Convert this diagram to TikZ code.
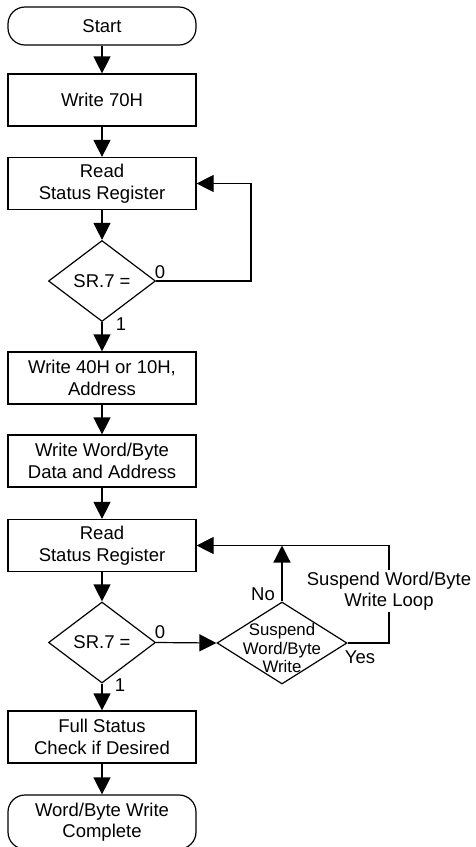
\documentclass[tikz,border=0pt]{standalone}
\usepackage{fontspec}
\setmainfont{Liberation Sans}
\usetikzlibrary{calc}
\usetikzlibrary{positioning}
\usetikzlibrary{shapes.geometric}
\usetikzlibrary{arrows.meta}

\begin{document}
\begin{tikzpicture}[x=1pt, y=-1pt,
		every node/.style={font=\fontsize{18.5}{21.5}\selectfont},
		box/.style={draw, line width=1.2pt, minimum width=188pt, minimum height=52pt, align=center, inner sep=0pt},
		term/.style={box, rounded corners=17pt},
		decide/.style={draw, line width=1.2pt, diamond, minimum width=107pt, minimum height=81pt, inner sep=0pt, aspect=1.32},
		arr/.style={line width=1.2pt, -{Triangle[length=17pt, width=17pt]}},
		wire/.style={line width=1.2pt}]
		\clip (0, 0) rectangle (476, 847);
		
		% main column
		\node[term, minimum height=38pt] (start) at (102, 26) {Start};
		\node[box] (w70) at (102, 100) {Write 70H};
		\node[box] (rsra) at (102, 183.5) {Read\\Status Register};
		\node[decide] (sra) at (102, 281) {SR.7 =};
		\node[box] (w40) at (102, 378) {Write 40H or 10H,\\Address};
		\node[box] (wwb) at (102, 461) {Write Word/Byte\\Data and Address};
		\node[box] (rsrb) at (102, 545.5) {Read\\Status Register};
		\node[decide] (srb) at (102, 642.5) {SR.7 =};
		\node[box] (full) at (102, 737) {Full Status\\Check if Desired};
		\node[term, minimum height=54pt] (done) at (102, 822) {Word/Byte Write\\Complete};
		
		% suspend branch
		\node[decide, minimum width=130pt, minimum height=82pt, aspect=1.585] (susp) at (282, 643) {};
		\node[font=\fontsize{16.8}{18.3}\selectfont, align=center, inner sep=0pt] (susptxt) at (282, 648) {Suspend\\Word/Byte\\Write};
		
		\coordinate (loopa) at (251, 183.5);
		\coordinate (loopb) at (389, 545.5);
		
		\draw[arr] (start) -- (w70);
		\draw[arr] (w70) -- (rsra);
		\draw[arr] (rsra) -- (sra);
		\draw[arr] (sra) -- (w40);
		\draw[arr] (w40) -- (wwb);
		\draw[arr] (wwb) -- (rsrb);
		\draw[arr] (rsrb) -- (srb);
		\draw[arr] (srb) -- (full);
		\draw[arr] (full) -- (done);
		\draw[arr] (sra.east) -| (loopa) -- (rsra.east);
		\draw[arr] (srb.east) -- (susp.west);
		\draw[arr] (susp.north) -- (susp.north |- rsrb.east);
		\draw[arr] (susp.east) -| (loopb) -- (rsrb.east);
		
		% labels
		\node (zeroa) at (160, 272) {0};
		\node (onea) at (121, 324) {1};
		\node (zerob) at (160, 632) {0};
		\node (oneb) at (120, 685) {1};
		\node (no) at (263, 594) {No};
		\node (yes) at (360, 657) {Yes};
		\node[fill=white, align=center, inner sep=2pt] (loopname) at (389, 591) {Suspend Word/Byte\\Write Loop};
	\end{tikzpicture}
\end{document}
